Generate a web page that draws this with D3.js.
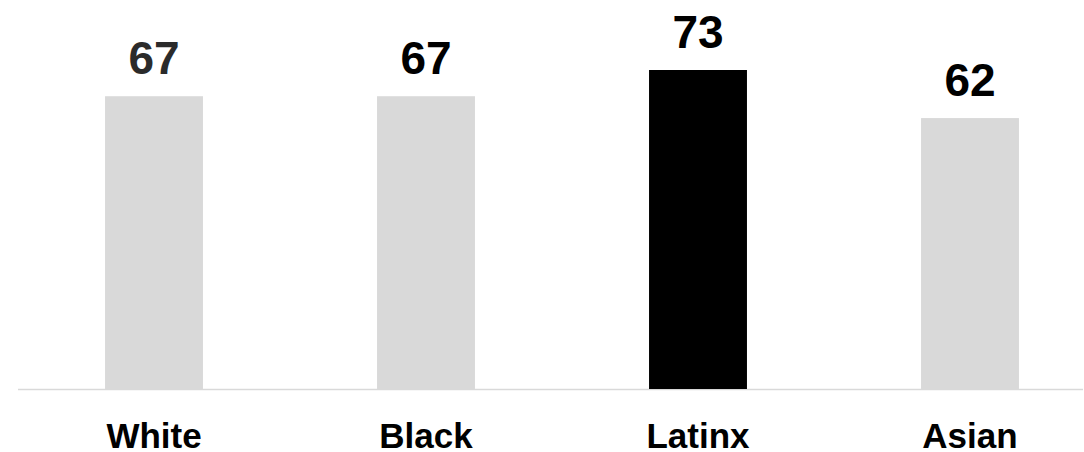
<!DOCTYPE html>
<html><head><meta charset="utf-8">
<script src="https://cdn.jsdelivr.net/npm/d3@7"></script>
<style>body{margin:0;background:#fff}svg{display:block}text{font-family:"Liberation Sans",Arial,sans-serif;font-weight:bold}</style>
</head><body><svg id="c" width="1084" height="452"></svg>
<script>
const categories = ["White", "Black", "Latinx", "Asian"];
const values = [67, 67, 73, 62];
const highlight = [false, false, true, false];
const labelColors = ["#2b2b2b", "#000000", "#000000", "#000000"];

const svg = d3.select("#c");
const x = d3.scaleBand().domain(categories).range([18, 1106]).paddingInner(0.64).paddingOuter(0.32);
const y = d3.scaleLinear().domain([0, 73]).range([389, 70]);

const data = categories.map((c, i) => ({c, v: values[i], h: highlight[i], lc: labelColors[i]}));

svg.append("line").attr("x1", 18).attr("x2", 1083).attr("y1", 389.5).attr("y2", 389.5)
  .attr("stroke", "#d9d9d9").attr("stroke-width", 1.5);

svg.selectAll("rect.bar").data(data).join("rect").attr("class", "bar")
  .attr("x", d => x(d.c)).attr("width", x.bandwidth())
  .attr("y", d => y(d.v)).attr("height", d => y(0) - y(d.v))
  .attr("fill", d => d.h ? "#000000" : "#d9d9d9");

svg.selectAll("text.val").data(data).join("text").attr("class", "val")
  .attr("x", d => x(d.c) + x.bandwidth() / 2).attr("y", d => y(d.v) - 22)
  .attr("text-anchor", "middle").attr("font-size", 46)
  .attr("fill", d => d.lc).text(d => d.v);

const xAxis = svg.append("g").attr("transform", "translate(0,448)")
  .call(d3.axisBottom(x).tickSize(0).tickPadding(0));
xAxis.select(".domain").remove();
xAxis.selectAll("text").attr("font-size", 35).attr("fill", "#000").attr("dy", 0)
  .style("font-family", '"Liberation Sans",Arial,sans-serif').style("font-weight", "bold");
</script></body></html>
